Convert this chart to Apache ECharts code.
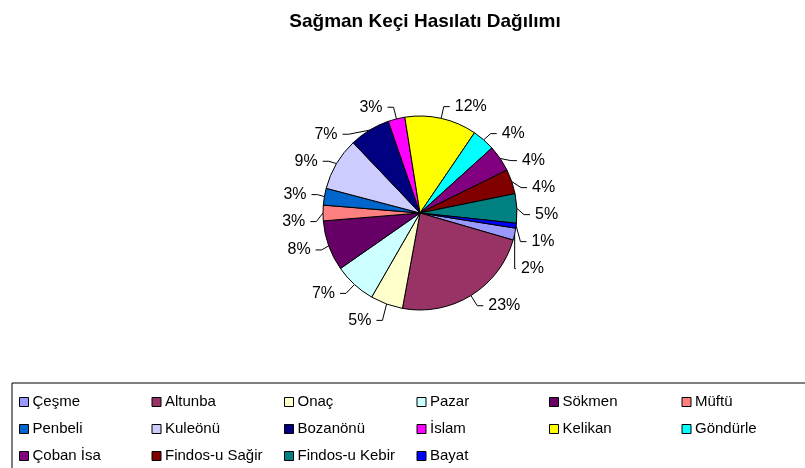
<!DOCTYPE html>
<html>
<head>
<meta charset="utf-8">
<script src="https://cdn.jsdelivr.net/npm/echarts@6/dist/echarts.min.js"></script>
<style>
  html, body { margin: 0; padding: 0; background: #fff; }
  #chart { width: 805px; height: 468px; }
</style>
</head>
<body>
<div id="chart"></div>
<script>
// köyler ve hasılat payları (%)
var koyler = ['Çeşme', 'Altunba', 'Onaç', 'Pazar', 'Sökmen', 'Müftü',
              'Penbeli', 'Kuleönü', 'Bozanönü', 'İslam', 'Kelikan', 'Göndürle',
              'Çoban İsa', 'Findos-u Sağir', 'Findos-u Kebir', 'Bayat'];
var paylar = [2.0, 23.4, 5.4, 7.0, 8.4, 2.6,
              2.8, 8.8, 6.8, 2.8, 12.0, 3.8,
              4.4, 4.1, 4.9, 0.8];
var renkler = ['#9999FF', '#993366', '#FFFFCC', '#CCFFFF', '#660066', '#FF8080',
               '#0066CC', '#CCCCFF', '#000080', '#FF00FF', '#FFFF00', '#00FFFF',
               '#800080', '#800000', '#008080', '#0000FF'];

var chart = echarts.init(document.getElementById('chart'));
var font = 'Liberation Sans, Arial, sans-serif';

var option = {
    animation: false,
    color: renkler,
    title: {
        text: 'Sağman Keçi Hasılatı Dağılımı',
        left: 420,
        top: 7,
        textAlign: 'center',
        textStyle: { fontFamily: font, fontSize: 19, fontWeight: 'bold', color: '#000' }
    },
    legend: {
        left: 12,
        top: 383,
        width: 800,
        itemWidth: 9,
        itemHeight: 9,
        itemGap: 11,
        padding: [11, 10, 12, 7],
        borderColor: '#000',
        borderWidth: 1,
        icon: 'rect',
        itemStyle: { borderColor: '#000', borderWidth: 1 },
        textStyle: { fontFamily: font, fontSize: 15, color: '#000', width: 108, lineHeight: 16, padding: [0, 0, 0, -1] },
        data: koyler
    },
    series: [{
        type: 'pie',
        center: [420, 213],
        radius: 97,
        startAngle: -9,
        clockwise: true,
        avoidLabelOverlap: true,
        itemStyle: { borderColor: '#000', borderWidth: 1 },
        label: {
            position: 'outside',
            fontFamily: font,
            fontSize: 16,
            lineHeight: 25,
            color: '#000',
            formatter: function (p) { return Math.round(p.percent) + '%'; }
        },
        labelLine: {
            show: true,
            length: 12,
            length2: 6,
            lineStyle: { color: '#000', width: 1 }
        },
        data: koyler.map(function (k, i) { return { name: k, value: paylar[i] }; })
    }]
};
chart.setOption(option);
</script>
</body>
</html>
